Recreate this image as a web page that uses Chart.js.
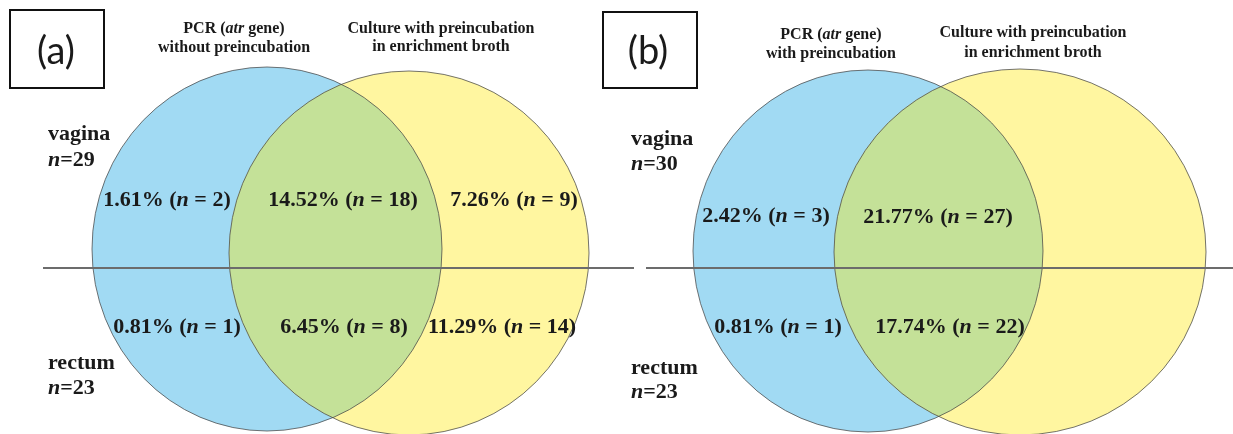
<!DOCTYPE html>
<html>
<head>
<meta charset="utf-8">
<script src="https://cdn.jsdelivr.net/npm/chart.js@4.4.1/dist/chart.umd.min.js"></script>
<style>
  html, body { margin: 0; padding: 0; background: #ffffff; }
  #venn { display: block; }
</style>
</head>
<body>
<canvas id="venn" width="1233" height="434"></canvas>
<script>
// ---- data ---------------------------------------------------------------
const TOTAL_SAMPLES = 124;
const panelTags = ['(a)', '(b)'];
const pcrTitles = ['without preincubation', 'with preincubation'];
const cultureTitle = ['Culture with preincubation', 'in enrichment broth'];
const siteNames = ['vagina', 'rectum'];
const siteTotalsA = [29, 23];
const siteTotalsB = [30, 23];
// counts per region: [PCR only, PCR and culture, culture only]
const vaginaA = [2, 18, 9];
const rectumA = [1, 8, 14];
const vaginaB = [3, 27, 0];
const rectumB = [1, 22, 0];

// ---- layout (axis units of the drawing area) ----------------------------
const panelLayout = [
  {
    box: [10, 10, 94, 78], tag: [56, 52],
    pcr: { cx: 267, cy: 249, rx: 175, ry: 182 },
    cul: { cx: 409, cy: 253, rx: 180, ry: 182 },
    divider: [43, 634, 268],
    pcrHead: [234, 33, 52], culHead: [441, 33, 51],
    siteX: 48, siteY: [[140, 166], [369, 394]],
    regionPos: [[[167, 200], [343, 200], [514, 200]], [[177, 327], [344, 327], [502, 327]]]
  },
  {
    box: [603, 12, 94, 76], tag: [648, 52],
    pcr: { cx: 868, cy: 251, rx: 175, ry: 181 },
    cul: { cx: 1020, cy: 252, rx: 186, ry: 183 },
    divider: [646, 1233, 268],
    pcrHead: [831, 39, 58], culHead: [1033, 37, 57],
    siteX: 631, siteY: [[145, 170], [374, 398]],
    regionPos: [[[766, 216], [938, 217], [1080, 216]], [[778, 327], [950, 327], [1080, 327]]]
  }
];

const COLORS = { pcr: '#A1DAF3', cul: '#FFF6A0', both: '#C4E198', edge: 'rgba(70,70,70,0.75)', text: '#1a1a1a', rule: '#6c6c6c' };
const SERIF = '"Liberation Serif", "Times New Roman", serif';

const panelCounts = [[vaginaA, rectumA], [vaginaB, rectumB]];
const panelSiteTotals = [siteTotalsA, siteTotalsB];

function pct(n) { return (n / TOTAL_SAMPLES * 100).toFixed(2) + '%'; }

// region label points
const regionPoints = [];
panelCounts.forEach((sites, p) => {
  sites.forEach((counts, s) => {
    counts.forEach((n, r) => {
      if (n > 0) {
        const pos = panelLayout[p].regionPos[s][r];
        regionPoints.push({ x: pos[0], y: pos[1], n: n });
      }
    });
  });
});

// divider datasets
const dividerSets = panelLayout.map(L => ({
  type: 'line',
  data: [{ x: L.divider[0], y: L.divider[2] }, { x: L.divider[1], y: L.divider[2] }],
  borderColor: COLORS.rule, borderWidth: 2, pointRadius: 0, fill: false, order: 0
}));

// ---- helpers -------------------------------------------------------------
function runFont(size, italic) { return (italic ? 'italic ' : '') + 'bold ' + size + 'px ' + SERIF; }
function drawRuns(ctx, runs, x, y, size, align) {
  let w = 0;
  runs.forEach(r => { ctx.font = runFont(size, r[1]); w += ctx.measureText(r[0]).width; });
  let cx = align === 'center' ? x - w / 2 : x;
  ctx.textAlign = 'left';
  runs.forEach(r => { ctx.font = runFont(size, r[1]); ctx.fillText(r[0], cx, y); cx += ctx.measureText(r[0]).width; });
}
function ellipsePath(ctx, xs, ys, e) {
  const cx = xs.getPixelForValue(e.cx), cy = ys.getPixelForValue(e.cy);
  const rx = Math.abs(xs.getPixelForValue(e.cx + e.rx) - cx);
  const ry = Math.abs(ys.getPixelForValue(e.cy + e.ry) - cy);
  ctx.beginPath();
  ctx.ellipse(cx, cy, rx, ry, 0, 0, Math.PI * 2);
}

// ---- plugins -------------------------------------------------------------
const vennSets = {
  id: 'vennSets',
  beforeDatasetsDraw(chart) {
    const ctx = chart.ctx, xs = chart.scales.x, ys = chart.scales.y;
    ctx.save();
    panelLayout.forEach(L => {
      ellipsePath(ctx, xs, ys, L.pcr); ctx.fillStyle = COLORS.pcr; ctx.fill();
      ellipsePath(ctx, xs, ys, L.cul); ctx.fillStyle = COLORS.cul; ctx.fill();
      ctx.save();
      ellipsePath(ctx, xs, ys, L.pcr); ctx.clip();
      ellipsePath(ctx, xs, ys, L.cul); ctx.fillStyle = COLORS.both; ctx.fill();
      ctx.restore();
      ctx.lineWidth = 1; ctx.strokeStyle = COLORS.edge;
      ellipsePath(ctx, xs, ys, L.pcr); ctx.stroke();
      ellipsePath(ctx, xs, ys, L.cul); ctx.stroke();
    });
    ctx.restore();
  }
};

const vennText = {
  id: 'vennText',
  afterDatasetsDraw(chart) {
    const ctx = chart.ctx, xs = chart.scales.x, ys = chart.scales.y;
    ctx.save();
    ctx.fillStyle = COLORS.text;
    ctx.textBaseline = 'middle';
    // region labels from the scatter points
    const meta = chart.getDatasetMeta(0);
    meta.data.forEach((el, i) => {
      const n = chart.data.datasets[0].data[i].n;
      drawRuns(ctx, [[pct(n) + ' (', false], ['n', true], [' = ' + n + ')', false]], el.x, el.y, 22, 'center');
    });
    ctx.textBaseline = 'alphabetic';
    panelLayout.forEach((L, p) => {
      const px = v => xs.getPixelForValue(v), py = v => ys.getPixelForValue(v);
      // site labels
      siteNames.forEach((s, i) => {
        drawRuns(ctx, [[s, false]], px(L.siteX), py(L.siteY[i][0]), 22, 'left');
        drawRuns(ctx, [['n', true], ['=' + panelSiteTotals[p][i], false]], px(L.siteX), py(L.siteY[i][1]), 22, 'left');
      });
      // set titles
      drawRuns(ctx, [['PCR (', false], ['atr', true], [' gene)', false]], px(L.pcrHead[0]), py(L.pcrHead[1]), 16, 'center');
      drawRuns(ctx, [[pcrTitles[p], false]], px(L.pcrHead[0]), py(L.pcrHead[2]), 16, 'center');
      drawRuns(ctx, [[cultureTitle[0], false]], px(L.culHead[0]), py(L.culHead[1]), 16, 'center');
      drawRuns(ctx, [[cultureTitle[1], false]], px(L.culHead[0]), py(L.culHead[2]), 16, 'center');
      // panel tag box
      const b = L.box;
      ctx.lineWidth = 2; ctx.strokeStyle = '#111';
      ctx.strokeRect(px(b[0]), py(b[1]), px(b[0] + b[2]) - px(b[0]), py(b[1] + b[3]) - py(b[1]));
      ctx.font = '38px Lato, "Open Sans", sans-serif';
      ctx.textAlign = 'center'; ctx.textBaseline = 'middle';
      ctx.fillText(panelTags[p], px(L.tag[0]), py(L.tag[1]));
      ctx.textBaseline = 'alphabetic';
    });
    ctx.restore();
  }
};

new Chart(document.getElementById('venn'), {
  type: 'scatter',
  data: {
    datasets: [
      { data: regionPoints, pointRadius: 0, pointHoverRadius: 0, showLine: false, order: 1 },
      ...dividerSets
    ]
  },
  options: {
    responsive: false,
    animation: false,
    devicePixelRatio: 1,
    layout: { padding: 0 },
    events: [],
    plugins: { legend: { display: false }, tooltip: { enabled: false } },
    scales: {
      x: { type: 'linear', min: 0, max: 1233, display: false },
      y: { type: 'linear', min: 0, max: 434, reverse: true, display: false }
    }
  },
  plugins: [vennSets, vennText]
});
</script>
</body>
</html>
